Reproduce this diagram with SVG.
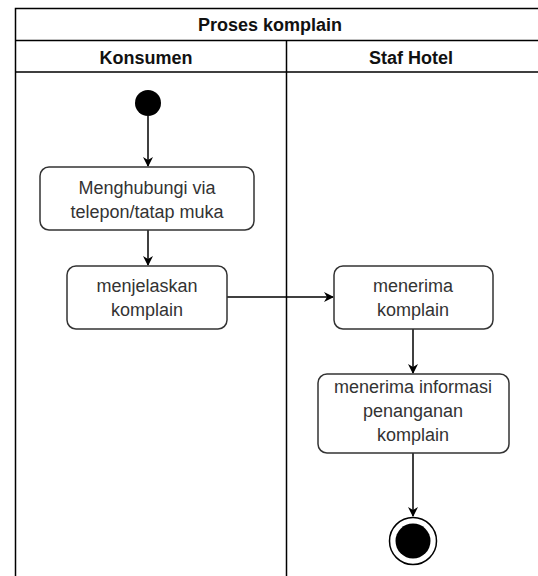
<svg xmlns="http://www.w3.org/2000/svg" width="538" height="576" viewBox="0 0 538 576">
<defs>
<style>
.frame{fill:none;stroke:#000;stroke-width:1.5}
.act{fill:#fff;stroke:#333;stroke-width:1.5}
.t{font-family:"Liberation Sans",Arial,sans-serif;font-size:18px;fill:#333;text-anchor:middle}
.h{font-family:"Liberation Sans",Arial,sans-serif;font-size:18px;font-weight:bold;fill:#111;text-anchor:middle}
.c{fill:none;stroke:#000;stroke-width:1.5}
</style>
<marker id="arr" viewBox="0 0 10 10" refX="9" refY="5" markerWidth="10" markerHeight="10" markerUnits="userSpaceOnUse" orient="auto">
<path d="M0,0 L10,5 L0,10 L3,5 Z" fill="#000"/>
</marker>
</defs>
<rect width="538" height="576" fill="#fff"/>
<g id="pool">
<path class="frame" d="M15.5,580 V8.5 H545 M15.5,40.5 H545 M15.5,72 H545 M286.5,40.5 V580"/>
<text class="h" x="270" y="31">Proses komplain</text>
<text class="h" x="146" y="64">Konsumen</text>
<text class="h" x="411" y="64">Staf Hotel</text>
</g>
<g id="connectors">
<line class="c" x1="148" y1="116" x2="148" y2="166" marker-end="url(#arr)"/>
<line class="c" x1="148" y1="230" x2="148" y2="265" marker-end="url(#arr)"/>
<line class="c" x1="227" y1="297" x2="333" y2="297" marker-end="url(#arr)"/>
<line class="c" x1="413" y1="329" x2="413" y2="373" marker-end="url(#arr)"/>
<line class="c" x1="413" y1="453" x2="413" y2="516" marker-end="url(#arr)"/>
</g>
<g id="start"><circle cx="148" cy="103" r="13" fill="#000"/></g>
<g id="a1">
<rect class="act" x="40" y="167" width="214" height="63" rx="9"/>
<text class="t" x="147" y="194">Menghubungi via</text>
<text class="t" x="147" y="218">telepon/tatap muka</text>
</g>
<g id="a2">
<rect class="act" x="67" y="266" width="160" height="63" rx="9"/>
<text class="t" x="147" y="292">menjelaskan</text>
<text class="t" x="147" y="316">komplain</text>
</g>
<g id="a3">
<rect class="act" x="334" y="266" width="159" height="63" rx="9"/>
<text class="t" x="413" y="292">menerima</text>
<text class="t" x="413" y="316">komplain</text>
</g>
<g id="a4">
<rect class="act" x="318" y="374" width="191" height="79" rx="9"/>
<text class="t" x="413" y="393">menerima informasi</text>
<text class="t" x="413" y="417">penanganan</text>
<text class="t" x="413" y="441">komplain</text>
</g>
<g id="end">
<circle cx="413" cy="541" r="23.5" fill="#fff" stroke="#000" stroke-width="1.5"/>
<circle cx="413" cy="541" r="17.5" fill="#000"/>
</g>
</svg>
